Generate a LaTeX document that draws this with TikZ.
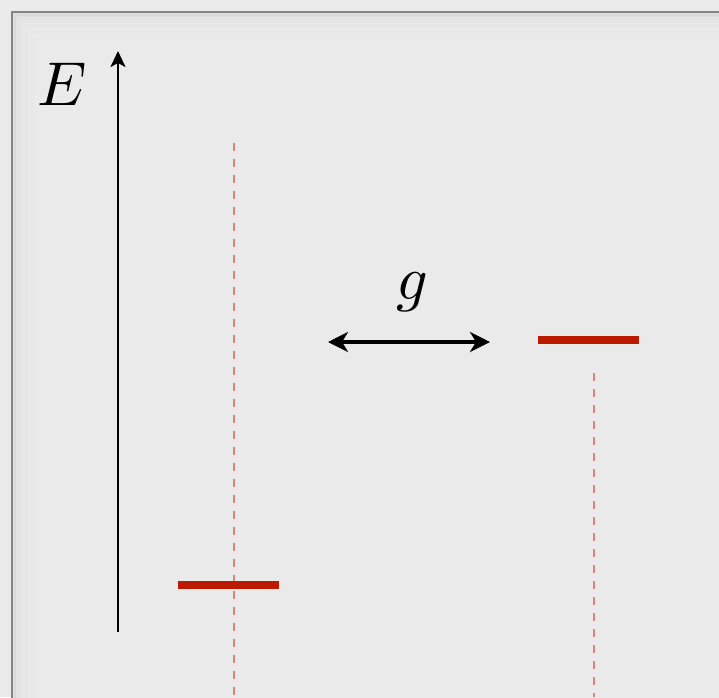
\documentclass[tikz,border=0pt]{standalone}
\usepackage{amsmath,amssymb}
\usepackage{graphicx}
\usetikzlibrary{arrows.meta}
\definecolor{levelred}{HTML}{BB1A00}
\definecolor{guidered}{HTML}{E0847A}
\definecolor{panelgray}{HTML}{EAEAEA}
\definecolor{framegray}{HTML}{858585}
\newcommand{\bigsym}[1]{\scalebox{6.2}{$#1$}}
\tikzset{
  level/.style={levelred,line width=8pt},
  guide/.style={guidered,line width=2.5pt,dash pattern=on 8pt off 8pt},
  axis/.style={line width=2.4pt,-{Stealth[length=16pt,width=15pt,inset=4pt]}},
  coupling/.style={line width=3.5pt,{Stealth[length=20pt,width=20pt,inset=6pt]}-{Stealth[length=20pt,width=20pt,inset=6pt]}}
}
\begin{document}
\begin{tikzpicture}[x=1pt,y=-1pt]
    \useasboundingbox[fill=panelgray!97!white] (0,0) rectangle (719,697);
    \fill[panelgray] (12,12) rectangle (730,710);
    \foreach \d/\o in {2/6,5/4,9/3,14/2,20/1} {
      \draw[black,opacity=0.008*\o,line width=4pt] (12+\d,710) -- (12+\d,12+\d) -- (730,12+\d);
    }
    \draw[framegray,line width=2.2pt] (12,710) -- (12,12) -- (730,12);
    % energy axis
    \coordinate (E0) at (118,632);
    \coordinate (E1) at (118,51);
    \draw[axis] (E0) -- (E1);
    \node (E) at (62,84) {\bigsym{E}};
    % levels
    \coordinate (L1) at (178,585);
    \coordinate (L2) at (279,585);
    \coordinate (R1) at (538,340);
    \coordinate (R2) at (639,340);
    \coordinate (T1) at (234,143);
    \coordinate (B1) at (234,697);
    \coordinate (T2) at (594,373);
    \coordinate (B2) at (594,697);
    \draw[guide] (T1) -- (B1);
    \draw[guide] (T2) -- (B2);
    \draw[level] (L1) -- (L2);
    \draw[level] (R1) -- (R2);
    % coupling
    \coordinate (A) at (328,342);
    \coordinate (B) at (490,342);
    \draw[coupling] (A) -- (B);
    \node (g) at (412,292) {\bigsym{g}};
\end{tikzpicture}
\end{document}
